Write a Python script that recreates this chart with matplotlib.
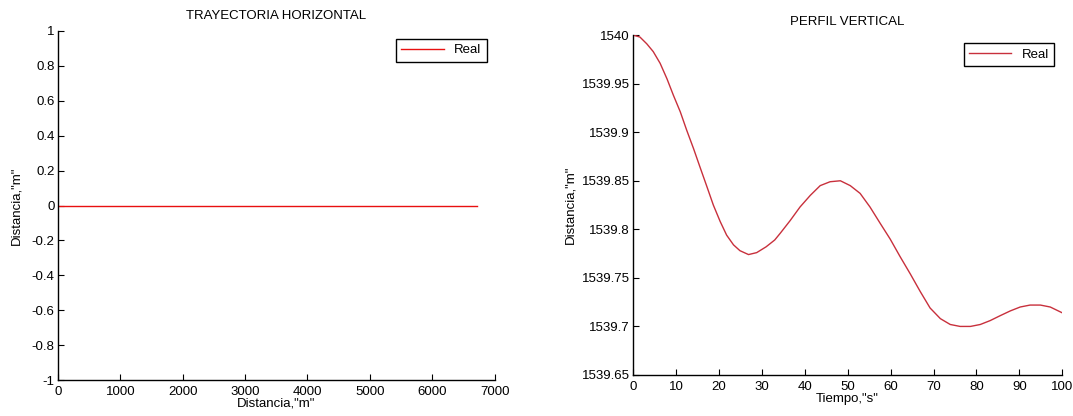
import matplotlib
matplotlib.use('agg')
import matplotlib.pyplot as plt

plt.rcParams['font.family'] = ['Liberation Sans', 'DejaVu Sans']
plt.rcParams['font.size'] = 9.5
plt.rcParams['xtick.direction'] = 'in'
plt.rcParams['ytick.direction'] = 'in'

# trayectoria horizontal (recta en y = 0)
dist_x = [0, 6710]
dist_y = [0, 0]

# perfil vertical
tiempo = [0, 1.6, 3.2, 4.7, 6.3, 7.9, 9.4, 11.0, 12.5, 14.1, 15.6, 17.2,
          18.7, 20.3, 21.8, 23.4, 24.9, 26.9, 28.8, 31.0, 33.0, 34.3, 36.6,
          38.9, 41.3, 43.6, 45.9, 48.3, 50.6, 52.9, 55.2, 57.6, 59.9, 62.2,
          64.6, 66.9, 69.2, 71.6, 73.9, 76.2, 78.6, 80.9, 83.2, 85.5, 87.9,
          90.2, 92.5, 94.9, 97.2, 100]
altura = [1540.000, 1539.998, 1539.991, 1539.983, 1539.971, 1539.955,
          1539.938, 1539.921, 1539.902, 1539.883, 1539.864, 1539.844,
          1539.825, 1539.808, 1539.794, 1539.784, 1539.778, 1539.774,
          1539.776, 1539.782, 1539.789, 1539.796, 1539.809, 1539.823,
          1539.835, 1539.845, 1539.849, 1539.850, 1539.845, 1539.837,
          1539.823, 1539.806, 1539.790, 1539.772, 1539.754, 1539.736,
          1539.719, 1539.708, 1539.702, 1539.700, 1539.700, 1539.702,
          1539.706, 1539.711, 1539.716, 1539.720, 1539.722, 1539.722,
          1539.720, 1539.714]

fig = plt.figure(figsize=(10.73, 4.16), dpi=100)

ax1 = fig.add_axes([0.054, 0.0865, 0.407, 0.839])
ax1.plot(dist_x, dist_y, color='#e81010', lw=1.0, label='Real')
ax1.set_xlim(0, 7000)
ax1.set_ylim(-1, 1)
ax1.set_xticks(range(0, 7001, 1000))
ax1.set_yticks([-1, -0.8, -0.6, -0.4, -0.2, 0, 0.2, 0.4, 0.6, 0.8, 1])
ax1.set_yticklabels(['-1', '-0.8', '-0.6', '-0.4', '-0.2', '0', '0.2', '0.4', '0.6', '0.8', '1'])
ax1.set_title('TRAYECTORIA HORIZONTAL', fontsize=9.5, pad=8.5)
ax1.set_xlabel('Distancia,"m"', labelpad=0)
ax1.set_ylabel('Distancia,"m"', labelpad=6.5)

ax2 = fig.add_axes([0.590, 0.0986, 0.400, 0.817])
ax2.plot(tiempo, altura, color='#c8303c', lw=1.0, label='Real')
ax2.set_xlim(0, 100)
ax2.set_ylim(1539.65, 1540)
ax2.set_xticks(range(0, 101, 10))
yt = [1539.65, 1539.7, 1539.75, 1539.8, 1539.85, 1539.9, 1539.95, 1540]
ax2.set_yticks(yt)
ax2.set_yticklabels(['1539.65', '1539.7', '1539.75', '1539.8', '1539.85', '1539.9', '1539.95', '1540'])
ax2.set_title('PERFIL VERTICAL', fontsize=9.5, pad=7)
ax2.set_xlabel('Tiempo,"s"', labelpad=0)
ax2.set_ylabel('Distancia,"m"', labelpad=4)

for ax in (ax1, ax2):
    ax.spines['top'].set_visible(False)
    ax.spines['right'].set_visible(False)
    ax.spines['left'].set_linewidth(1.0)
    ax.spines['bottom'].set_linewidth(1.0)
    ax.tick_params(length=4, width=0.8, labelsize=9.5)
    ax.tick_params(axis='x', pad=4)
    ax.tick_params(axis='y', pad=2.5)
    leg = ax.legend(loc='upper right', fontsize=9.5, fancybox=False, framealpha=1,
                    handlelength=3.2, borderpad=0.4, borderaxespad=0.6)
    leg.get_frame().set_edgecolor('black')
    leg.get_frame().set_linewidth(1.0)

fig.savefig('out.png', dpi=100)
plt.close()
